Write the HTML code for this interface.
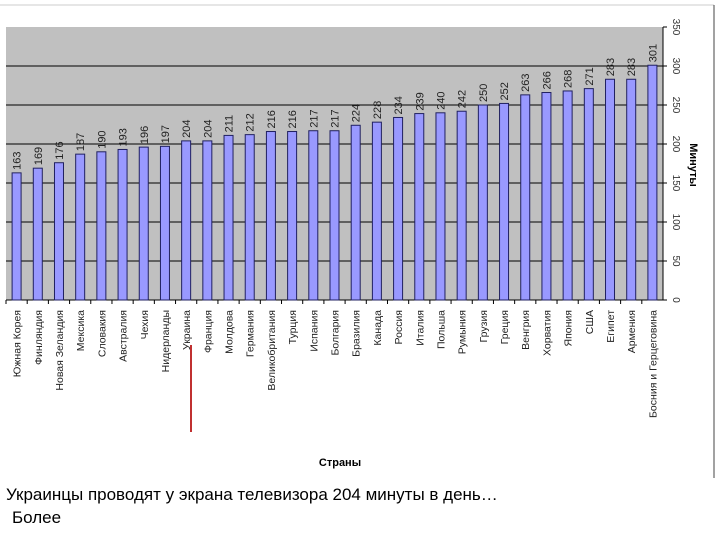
<!DOCTYPE html>
<html><head><meta charset="utf-8"><style>
body{margin:0;background:#fff;width:720px;height:540px;overflow:hidden;font-family:"Liberation Sans",sans-serif}
</style></head><body>
<svg width="720" height="540" xmlns="http://www.w3.org/2000/svg" font-family="Liberation Sans, sans-serif">
<line x1="0" y1="5" x2="714" y2="5" stroke="#ccc"/>
<line x1="714" y1="5" x2="714" y2="478" stroke="#444"/>
<rect x="6" y="27" width="657" height="273" fill="#c0c0c0"/>
<g id="grid"></g><g id="bars"></g><g id="xlabels"></g><g id="ylabels"></g>
<text transform="translate(690,165) rotate(90)" text-anchor="middle" font-size="11" font-weight="bold">Минуты</text>
<text x="340" y="466" text-anchor="middle" font-size="11" font-weight="bold">Страны</text>
<line x1="191" y1="345" x2="191" y2="432" stroke="#c03030" stroke-width="2"/>
<text x="6" y="500" font-size="17">Украинцы проводят у экрана телевизора 204 минуты в день…</text>
<text x="12" y="523" font-size="17">Более</text>
</svg>
<script>
const categories=["Южная Корея","Финляндия","Новая Зеландия","Мексика","Словакия","Австралия","Чехия","Нидерланды","Украина","Франция","Молдова","Германия","Великобритания","Турция","Испания","Болгария","Бразилия","Канада","Россия","Италия","Польша","Румыния","Грузия","Греция","Венгрия","Хорватия","Япония","США","Египет","Армения","Босния и Герцеговина"];
const values=[163,169,176,187,190,193,196,197,204,204,211,212,216,216,217,217,224,228,234,239,240,242,250,252,263,266,268,271,283,283,301];
const yTicks=[0,50,100,150,200,250,300,350];
const NS="http://www.w3.org/2000/svg";
const L=6,R=663,T=27,B=300,YMAX=350;
const y=v=>B-(v/YMAX)*(B-T);
const bw=(R-L)/categories.length;
const x=i=>L+bw*(i+0.5);
function mk(tag,attrs,parent,txt){const e=document.createElementNS(NS,tag);for(const k in attrs)e.setAttribute(k,attrs[k]);if(txt!=null)e.textContent=txt;document.getElementById(parent).appendChild(e);return e;}
yTicks.forEach(t=>{
  if(t>0&&t<YMAX){const g=mk('line',{x1:L,x2:R,y1:y(t),y2:y(t),stroke:'#000','stroke-width':1},'grid');
  
  }
  const tk=mk('line',{x1:R,x2:R+4,y1:y(t),y2:y(t),stroke:'#000'},'grid');
  
  
  const lb=mk('text',{transform:`translate(${R+10},${y(t)}) rotate(90)`,'text-anchor':'middle','font-size':10,fill:'#333'},'ylabels',t);
  
  
});
mk('line',{x1:R,x2:R,y1:T,y2:B,stroke:'#000'},'grid');
mk('line',{x1:L,x2:R,y1:B,y2:B,stroke:'#000'},'grid');
categories.forEach((c,i)=>{
  const v=values[i];
  const b=mk('rect',{x:x(i)-4.5,y:y(v),width:9,height:B-y(v),fill:'#9999ff',stroke:'#202060','stroke-width':1},'bars');
  
  
  const vl=mk('text',{transform:`translate(${x(i)+4},${y(v)-3}) rotate(-90)`,'font-size':11,fill:'#222'},'bars',v);
  
  
  const tk=mk('line',{x1:L+bw*i,x2:L+bw*i,y1:B,y2:B+4,stroke:'#000'},'grid');
  
  
  const cl=mk('text',{transform:`translate(${x(i)+4},${B+10}) rotate(-90)`,'text-anchor':'end','font-size':10.5,fill:'#222'},'xlabels',c);
  
  
});
</script>
</body></html>
